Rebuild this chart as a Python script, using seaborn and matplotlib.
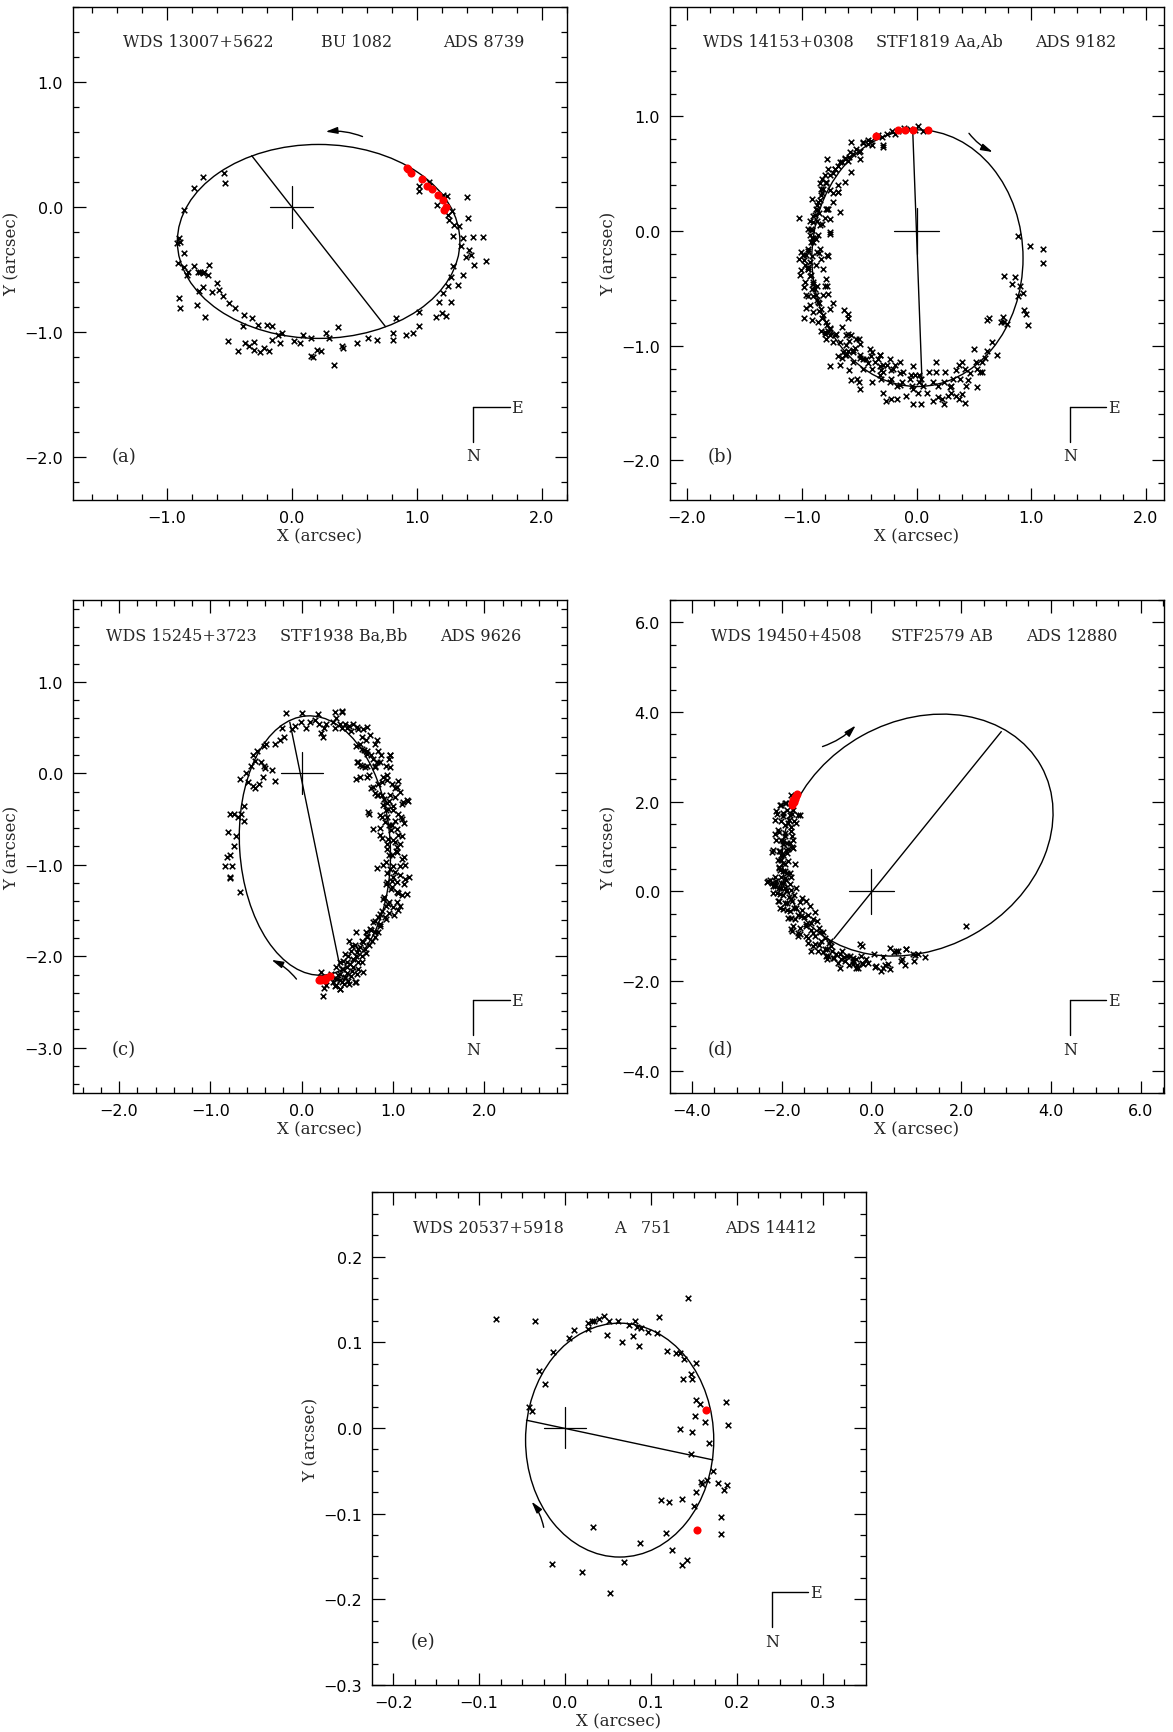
import matplotlib
matplotlib.use("Agg")
import matplotlib.pyplot as plt
import seaborn as sns
from matplotlib.patches import Ellipse
from matplotlib.ticker import MultipleLocator, FuncFormatter

sns.set_style("ticks")
plt.rcParams['font.family'] = ['DejaVu Sans']

# ---------------- data (arcsec) ----------------

# (a) WDS 13007+5622 / BU 1082
a_x = [-0.54, -0.53, -0.71, -0.78, -0.86, -0.92, -0.90, -0.89, -0.91, -0.86, -0.86, -0.83, -0.84, -0.78,
       -0.75, -0.73, -0.71, -0.70, -0.67, -0.66, -0.74, -0.71, -0.64, -0.60, -0.58, -0.55, -0.90, -0.89,
       -0.76, -0.69, -0.50, -0.45, -0.38, -0.32, -0.39, -0.27, -0.20, -0.16, -0.11, -0.08, -0.51, -0.43,
       -0.37, -0.34, -0.30, -0.30, -0.25, -0.22, -0.18, -0.16, -0.09, 0.02, 0.07, 0.09, 0.15, 0.15, 0.17,
       0.20, 0.23, 0.27, 0.30, 0.34, 0.37, 0.40, 0.41, 0.52, 0.61, 0.68, 0.81, 0.81, 0.83, 0.91, 0.97,
       1.02, 1.02, 1.15, 1.18, 1.20, 1.23, 1.27, 1.21, 1.25, 1.27, 1.33, 1.37, 1.29, 1.46, 1.55, 1.43,
       1.42, 1.39, 1.35, 1.37, 1.45, 1.53, 1.29, 1.34, 1.30, 1.26, 1.41, 1.25, 1.28, 1.16, 1.24, 1.21,
       1.40, 1.02, 1.02, 1.10]
a_y = [0.27, 0.19, 0.24, 0.15, -0.02, -0.29, -0.25, -0.28, -0.45, -0.37, -0.48, -0.52, -0.54, -0.47,
       -0.52, -0.52, -0.53, -0.52, -0.54, -0.46, -0.67, -0.64, -0.68, -0.61, -0.66, -0.71, -0.73, -0.81,
       -0.78, -0.88, -0.77, -0.81, -0.86, -0.89, -0.95, -0.94, -0.94, -0.95, -1.02, -1.01, -1.07, -1.15,
       -1.09, -1.11, -1.08, -1.14, -1.16, -1.13, -1.15, -1.06, -1.09, -1.07, -1.09, -1.02, -1.05, -1.19,
       -1.20, -1.14, -1.15, -1.01, -1.05, -1.26, -0.96, -1.11, -1.13, -1.09, -1.05, -1.06, -1.01, -1.06,
       -0.89, -1.02, -1.01, -0.95, -0.84, -0.88, -0.76, -0.85, -0.87, -0.76, -0.69, -0.63, -0.56, -0.62,
       -0.54, -0.47, -0.46, -0.43, -0.38, -0.34, -0.40, -0.31, -0.25, -0.24, -0.24, -0.23, -0.15, -0.14,
       -0.10, -0.09, -0.06, -0.03, 0.02, 0.09, 0.10, 0.08, 0.17, 0.13, 0.20]
a_red_x = [0.92, 0.93, 0.95, 1.04, 1.08, 1.12, 1.17, 1.21, 1.23, 1.22]
a_red_y = [0.31, 0.30, 0.27, 0.22, 0.17, 0.14, 0.10, 0.06, 0.00, -0.02]

# (b) WDS 14153+0308 / STF1819 Aa,Ab
b_x = [-0.57, -0.47, -0.42, -0.39, -0.30, -0.29, -0.29, -0.49, -0.50, -0.55, -0.59, -0.62, -0.60, -0.65,
       -0.68, -0.71, -0.73, -0.78, -0.77, -0.80, -0.82, -0.84, -0.83, -0.79, -0.75, -0.68, -0.68, -0.73,
       -0.91, -0.82, -0.84, -0.87, -0.87, -0.85, -0.78, -0.77, -0.67, -0.80, -0.90, -0.93, -0.87, -0.82,
       -0.95, -0.91, -0.91, -0.90, -0.88, -0.90, -0.75, -0.75, -1.02, -0.87, -0.95, -0.85, -0.91, -0.98,
       -1.02, -0.77, -0.78, -0.95, -1.01, -0.95, -0.93, -0.88, -0.90, -0.91, -0.87, -0.80, -0.78, -0.98,
       -0.95, -0.90, -0.87, -0.77, -0.85, -0.73, -0.96, -0.98, -0.91, -0.85, -0.82, -0.78, -0.75, -0.77,
       -0.83, -0.79, -0.80, -0.75, -0.70, -0.63, -0.60, -0.60, -0.65, -0.60, -0.57, -0.59, -0.50, -0.49,
       -0.54, -0.60, -0.55, -0.62, -0.68, -0.65, -0.49, -0.47, -0.40, -0.42, -0.39, -0.32, -0.34, -0.39,
       -0.32, -0.31, -0.29, -0.26, -0.22, -0.19, -0.75, -0.67, -0.59, -0.57, -0.52, -0.50, -0.49, -0.39,
       -0.31, -0.29, -0.22, -0.17, -0.14, -0.13, -0.27, -0.22, -0.17, -0.09, -0.03, -0.01, -0.03, 0.04,
       -0.03, 0.02, 0.01, 0.04, 0.06, 0.11, 0.14, 0.17, 0.17, 0.14, 0.19, 0.24, 0.24, 0.25, 0.27, 0.30,
       0.32, 0.34, 0.37, 0.38, 0.40, 0.42, 0.43, 0.45, 0.47, 0.50, 0.52, 0.53, 0.53, 0.55, 0.57, 0.57,
       0.60, 0.61, 0.66, 0.70, 0.40, 0.37, 0.34, 0.42, 0.29, 0.19, 0.22, 0.30, 0.74, 0.75, 0.76, 0.79,
       0.61, 0.63, 0.76, 0.86, 0.83, 0.90, 0.88, 0.93, 0.94, 0.95, 0.97, 0.88, 0.99, 1.10, 1.10, -0.19,
       -0.16, -0.11, -0.06, 0.01, -0.01, 0.06, -0.21, -0.26, -0.34, -0.40, -0.06, -0.04, 0.02, 0.09,
       # denser part of the western arc
       -0.466, -0.423, -0.524, -0.582, -0.626, -0.669, -0.713, -0.756, -0.785, -0.815, -0.829, -0.858,
       -0.873, -0.887, -0.902, -0.916, -0.931, -0.916, -0.945, -0.960, -0.931, -0.945, -0.916, -0.902,
       -0.887, -0.873, -0.858, -0.829, -0.815, -0.785, -0.756, -0.713, -0.669, -0.611, -0.553, -0.495,
       -0.437, -0.364, -0.292, -0.205, -0.118, -0.045, -0.844, -0.858, -0.844, -0.829, -0.815, -0.785,
       -0.974, -0.989, -1.003, -0.785, -0.756, -0.727, -0.684, -0.626, -0.568, -0.495, -1.018, -0.815,
       -0.756, -0.611, -0.524, -0.408, -0.321, -0.234, -0.147, -0.321, -0.234, -0.147, -0.466, -0.553,
       -0.611, -0.974, -0.960, -0.931, -0.902, -0.858, -0.800, -0.727, -0.640]
b_y = [0.78, 0.77, 0.76, 0.75, 0.82, 0.75, 0.73, 0.70, 0.69, 0.67, 0.65, 0.64, 0.61, 0.60, 0.57, 0.54,
       0.51, 0.63, 0.54, 0.49, 0.45, 0.42, 0.37, 0.42, 0.36, 0.40, 0.34, 0.33, 0.28, 0.33, 0.27, 0.23,
       0.18, 0.16, 0.19, 0.19, 0.17, 0.11, 0.13, 0.09, 0.09, 0.06, 0.02, 0.01, -0.06, -0.06, -0.07,
       -0.10, -0.03, -0.01, 0.11, -0.18, -0.17, -0.19, -0.22, -0.25, -0.24, -0.22, -0.21, -0.33, -0.34,
       -0.31, -0.39, -0.30, -0.46, -0.51, -0.48, -0.48, -0.48, -0.49, -0.57, -0.57, -0.60, -0.55, -0.63,
       -0.63, -0.67, -0.76, -0.78, -0.70, -0.76, -0.82, -0.85, -0.87, -0.87, -0.94, -0.90, -0.91, -0.90,
       -0.69, -0.72, -0.76, -0.84, -0.90, -0.91, -0.96, -0.94, -0.99, -1.02, -1.05, -1.06, -1.08, -1.09,
       -1.11, -1.11, -1.12, -1.09, -1.15, -1.06, -1.08, -1.12, -1.20, -1.18, -1.21, -1.23, -1.17, -1.21,
       -1.17, -1.18, -1.17, -1.21, -1.30, -1.29, -1.32, -1.38, -1.32, -1.29, -1.41, -1.29, -1.35, -1.24,
       -1.32, -1.48, -1.47, -1.47, -1.44, -1.18, -1.26, -1.51, -1.51, -1.38, -1.32, -1.41, -1.29, -1.35,
       -1.23, -1.48, -1.14, -1.23, -1.32, -1.35, -1.32, -1.51, -1.23, -1.44, -1.35, -1.29, -1.21, -1.17,
       -1.29, -1.14, -1.20, -1.35, -1.30, -1.24, -1.03, -1.14, -1.20, -1.36, -1.23, -1.23, -1.14, -1.11,
       -1.05, -0.97, -1.08, -1.42, -1.47, -1.44, -1.50, -1.36, -1.45, -1.47, -1.41, -0.79, -0.75, -0.79,
       -0.81, -0.78, -0.76, -0.39, -0.40, -0.46, -0.48, -0.57, -0.54, -0.69, -0.72, -0.82, -0.04, -0.13,
       -0.16, -0.28, 0.85, 0.87, 0.90, 0.89, 0.92, 0.88, 0.87, 0.87, 0.85, 0.84, 0.79, -1.29, -1.35,
       -1.26, -1.41,
       0.776, 0.791, 0.718, 0.689, 0.631, 0.602, 0.543, 0.485, 0.427, 0.369, 0.311, 0.253, 0.194, 0.136,
       0.078, 0.020, -0.038, -0.096, -0.155, -0.213, -0.271, -0.329, -0.387, -0.446, -0.504, -0.562,
       -0.620, -0.678, -0.736, -0.795, -0.853, -0.911, -0.969, -0.998, -1.042, -1.085, -1.115, -1.144,
       -1.173, -1.202, -1.231, -1.260, 0.049, -0.038, -0.155, -0.242, -0.329, -0.416, -0.300, -0.213,
       -0.184, 0.194, 0.107, 0.253, 0.340, 0.427, 0.514, 0.631, -0.387, -0.562, -0.678, -0.911, -0.940,
       -1.027, -1.085, -1.115, -1.144, -1.260, -1.318, -1.347, -1.202, -1.144, -1.085, -0.446, -0.562,
       -0.649, -0.707, -0.795, -0.882, -0.969, -1.056]
b_red_x = [-0.35, -0.16, -0.10, -0.03, 0.10]
b_red_y = [0.83, 0.88, 0.88, 0.88, 0.88]

# (c) WDS 15245+3723 / STF1938 Ba,Bb
c_x = [-0.17, 0.00, 0.18, 0.36, 0.44, 0.44, -0.22, -0.11, -0.07, -0.01, 0.05, 0.09, 0.15, 0.19, 0.21,
       0.23, 0.25, 0.27, 0.34, 0.36, 0.38, 0.42, 0.44, 0.48, 0.50, 0.52, 0.54, 0.56, 0.62, 0.66, 0.64,
       0.70, 0.72, 0.60, 0.68, 0.72, 0.76, 0.80, 0.84, 0.87, 0.97, 0.96, 0.83, 0.80, 0.62, 0.66, 0.72,
       0.60, 0.74, 0.92, 0.94, 1.06, 1.02, 0.88, 0.76, 0.80, 0.84, 0.90, 0.96, 1.10, 1.16, 1.00, 0.92,
       0.88, 0.74, 0.94, 1.02, 1.09, 1.12, 0.86, 0.96, 1.06, 1.10, 1.00, 0.94, 0.88, 1.04, 1.12, 0.96,
       0.92, 0.83, 1.00, 1.08, 1.13, 1.18, 0.94, 1.00, 1.04, 1.12, 0.92, 0.98, 1.06, 1.15, 0.90, 0.96,
       1.04, 1.08, 0.92, 0.88, 0.96, 0.84, 0.92, 0.78, 0.86, 0.76, 0.84, 0.70, 0.72, 0.80, 0.60, 0.66,
       0.74, 0.58, 0.62, 0.70, 0.52, 0.54, 0.60, 0.66, 0.48, 0.50, 0.56, 0.62, 0.42, 0.44, 0.50, 0.54,
       0.60, 0.38, 0.40, 0.36, 0.42, 0.46, 0.52, 0.38, 0.42, 0.34, 0.27, 0.25, 0.23, 0.21, 0.32, 0.48,
       -0.29, -0.39, -0.41, -0.49, -0.53, -0.51, -0.45, -0.41, -0.40, -0.33, -0.29, -0.42, -0.55, -0.61,
       -0.68, -0.59, -0.53, -0.51, -0.47, -0.63, -0.66, -0.70, -0.74, -0.78, -0.81, -0.72, -0.74, -0.78,
       -0.82, -0.84, -0.76, -0.78, -0.78, -0.68, -0.63, -0.24, -0.19, 0.98, 1.03, 0.99, 0.93, 1.01,
       # dense eastern arc
       0.602, 0.675, 0.748, 0.821, 0.657, 0.711, 0.784, 0.602, 0.638, 0.693, 0.803, 0.857, 0.967, 0.967,
       0.894, 0.931, 0.985, 1.040, 0.839, 0.784, 0.821, 0.876, 0.967, 1.022, 1.077, 1.113, 1.149, 0.894,
       0.949, 1.004, 1.058, 1.095, 0.857, 0.912, 0.985, 1.040, 0.784, 0.857, 0.949, 1.022, 1.077, 0.730,
       0.711, 0.638,
       0.930, 0.985, 1.040, 1.095, 0.894, 0.967, 1.022, 1.077, 1.131, 0.930, 0.985, 1.040, 1.095, 0.894,
       0.949, 1.004, 1.058, 0.857, 0.912, 0.803, 0.857, 0.748, 0.803, 0.711, 0.766, 0.675, 0.638, 0.693,
       0.602, 0.657, 0.565, 0.620, 0.529, 0.492, 0.547, 0.456, 0.419, 0.474, 0.383, 0.438, 0.511, 0.584,
       0.365, 0.419, 0.602, 0.675, 0.547, 0.511, 0.456]
c_y = [0.66, 0.66, 0.65, 0.67, 0.68, 0.67, 0.50, 0.48, 0.52, 0.56, 0.50, 0.56, 0.58, 0.54, 0.44, 0.40,
       0.50, 0.54, 0.56, 0.50, 0.60, 0.54, 0.50, 0.54, 0.49, 0.52, 0.46, 0.54, 0.48, 0.40, 0.32, 0.36,
       0.51, 0.30, 0.26, 0.24, 0.20, 0.32, 0.24, 0.20, 0.20, 0.16, 0.12, 0.08, 0.12, 0.08, 0.08, -0.06,
       -0.02, 0.08, -0.02, -0.08, -0.16, -0.10, -0.16, -0.22, -0.24, -0.28, -0.30, -0.34, -0.30, -0.36,
       -0.40, -0.48, -0.44, -0.48, -0.52, -0.48, -0.54, -0.60, -0.56, -0.67, -0.69, -0.73, -0.77, -0.71,
       -0.81, -0.91, -0.89, -0.97, -1.03, -1.01, -1.01, -1.00, -1.13, -1.09, -1.13, -1.19, -1.21, -1.21,
       -1.27, -1.31, -1.32, -1.35, -1.41, -1.41, -1.45, -1.45, -1.51, -1.53, -1.57, -1.59, -1.63, -1.65,
       -1.71, -1.73, -1.73, -1.79, -1.79, -1.73, -1.83, -1.88, -1.88, -1.92, -1.96, -1.83, -1.94, -2.00,
       -2.06, -1.98, -2.06, -2.12, -2.14, -2.06, -2.14, -2.18, -2.22, -2.28, -2.12, -2.20, -2.24, -2.26,
       -2.30, -2.30, -2.32, -2.36, -2.28, -2.32, -2.35, -2.43, -2.17, -2.19, -2.24, 0.32, 0.32, 0.30,
       0.24, 0.20, 0.14, 0.12, 0.08, 0.06, 0.04, -0.08, -0.04, 0.08, 0.00, -0.06, -0.10, -0.14, -0.16,
       -0.12, -0.36, -0.44, -0.48, -0.44, -0.44, -0.64, -0.69, -0.79, -0.89, -0.91, -1.01, -1.01, -1.13,
       -1.15, -1.30, -0.52, 0.36, 0.40, -0.62, -0.85, -1.18, -0.33, -1.55,
       0.508, 0.489, 0.416, 0.362, 0.270, 0.216, 0.161, 0.124, 0.088, 0.070, 0.070, 0.124, 0.197, 0.070,
       -0.040, -0.076, -0.113, -0.149, -0.113, -0.149, -0.241, -0.241, -0.241, -0.259, -0.204, -0.314,
       -0.296, -0.350, -0.387, -0.405, -0.442, -0.496, -0.460, -0.533, -0.569, -0.606, -0.606, -0.679,
       -0.715, -0.752, -0.770, -0.423, -0.040, -0.040,
       -0.825, -0.898, -0.861, -0.935, -1.007, -1.044, -1.081, -1.117, -1.154, -1.190, -1.245, -1.300,
       -1.336, -1.373, -1.427, -1.464, -1.500, -1.537, -1.573, -1.610, -1.665, -1.701, -1.738, -1.774,
       -1.829, -1.847, -1.902, -1.920, -1.957, -1.993, -2.030, -2.066, -2.085, -2.121, -2.158, -2.139,
       -2.194, -2.231, -2.249, -2.285, -2.267, -2.285, -2.322, -2.358, -2.194, -2.176, -1.884, -1.993,
       -2.048]
c_red_x = [0.19, 0.20, 0.21, 0.24, 0.26, 0.27, 0.31]
c_red_y = [-2.26, -2.25, -2.26, -2.25, -2.26, -2.24, -2.22]

# (d) WDS 19450+4508 / STF2579 AB
d_x = [-1.80, -1.93, -2.01, -1.89, -2.10, -1.97, -1.76, -1.59, -1.84, -1.72, -1.93, -1.80, -2.14, -2.05,
       -1.93, -1.76, -2.01, -1.89, -1.76, -2.22, -2.05, -1.97, -1.89, -2.01, -1.93, -2.05, -1.97, -1.89,
       -2.14, -2.01, -1.93, -1.80, -2.32, -2.22, -2.14, -2.05, -1.93, -1.80, -1.68, -2.10, -1.97, -1.84,
       -1.72, -2.05, -1.89, -1.76, -1.59, -1.46, -2.03, -1.89, -1.72, -1.55, -1.38, -1.25, -1.80, -1.63,
       -1.51, -1.42, -1.30, -1.21, -1.76, -1.63, -1.46, -1.34, -1.17, -1.09, -1.42, -1.25, -1.04, -0.92,
       -1.30, -1.17, -1.00, -0.88, -0.66, -1.09, -0.96, -1.00, -0.68, -0.54, -0.41, -0.24, -0.33, -0.29,
       -0.20, -0.22, -0.12, 0.05, 0.09, 0.22, 0.30, 0.26, 0.41, 0.41, 0.51, 0.60, 0.68, 0.75, 0.78, 0.96,
       0.98, 1.04, 1.20, 2.11, -0.41, -0.50, -0.62, -0.79, -0.83, -1.98, -2.06, -1.87, -1.70, -1.55,
       -1.35, -1.15, -0.95,
       # dense northern column
       -2.045, -1.896, -1.748, -2.119, -1.971, -1.822, -1.637, -2.156, -2.008, -1.859, -1.674, -2.082,
       -1.933, -1.785, -2.119, -1.971, -1.822, -2.193, -2.045, -1.896, -1.748, -2.082, -1.971, -1.859,
       -2.045, -1.933, -1.822, -2.268, -2.119, -1.971, -1.822, -2.193, -2.008, -1.896, -2.008, -1.748,
       # dense southern band
       -2.305, -2.156, -2.008, -2.193, -2.045, -1.896, -2.082, -1.933, -1.785, -1.971, -1.822, -1.674,
       -1.859, -1.711, -1.562, -1.748, -1.599, -1.451, -1.599, -1.451, -1.302, -1.414, -1.265, -1.117,
       -1.191, -1.043, -0.894, -1.006, -0.857, -0.709, -0.746, -0.597, -0.486, -0.412, -0.337, -0.189,
       -1.785, -1.637, -1.340, -0.709, -0.337, -0.077, 0.108, 0.257, 0.368, 0.554, 0.665, 0.776, 0.925,
       -0.263]
d_y = [2.14, 1.98, 1.93, 1.81, 1.73, 1.69, 1.73, 1.71, 1.60, 1.56, 1.48, 1.44, 1.28, 1.32, 1.23, 1.23,
       1.15, 1.07, 0.99, 0.88, 0.91, 0.82, 0.86, 0.70, 0.62, 0.53, 0.45, 0.41, 0.33, 0.33, 0.29, 0.33,
       0.21, 0.18, 0.12, 0.08, 0.08, 0.04, 0.08, -0.04, -0.08, -0.12, -0.08, -0.21, -0.25, -0.21, -0.23,
       -0.21, -0.37, -0.41, -0.37, -0.41, -0.33, -0.45, -0.59, -0.53, -0.58, -0.53, -0.62, -0.66, -0.89,
       -0.99, -0.78, -0.86, -0.82, -0.91, -1.03, -0.99, -1.03, -1.11, -1.23, -1.19, -1.28, -1.32, -1.32,
       -1.36, -1.44, -1.50, -1.52, -1.44, -1.48, -1.44, -1.65, -1.71, -1.60, -1.22, -1.52, -1.40, -1.69,
       -1.77, -1.65, -1.47, -1.26, -1.73, -1.36, -1.32, -1.52, -1.65, -1.28, -1.55, -1.42, -1.40, -1.47,
       -0.77, -1.56, -1.65, -1.47, -1.40, -1.48, 1.05, 0.55, 0.95, 0.60, -0.15, -0.70, -0.90, -1.15,
       1.934, 1.971, 1.823, 1.786, 1.749, 1.711, 1.711, 1.600, 1.563, 1.526, 1.526, 1.377, 1.303, 1.340,
       1.155, 1.118, 1.080, 0.932, 0.895, 0.932, 0.969, 0.709, 0.635, 0.672, 0.487, 0.449, 0.412, 0.264,
       0.227, 0.190, 0.153, 0.115, 0.078, 0.264, 0.821, 1.155,
       0.227, 0.153, 0.190, -0.033, -0.070, 0.004, -0.219, -0.256, -0.181, -0.404, -0.441, -0.367,
       -0.590, -0.627, -0.553, -0.775, -0.812, -0.738, -0.961, -0.998, -0.924, -1.147, -1.184, -1.109,
       -1.332, -1.295, -1.221, -1.443, -1.481, -1.406, -1.592, -1.555, -1.443, -1.629, -1.518, -1.629,
       -0.850, -0.924, -1.332, -1.703, -1.703, -1.592, -1.666, -1.703, -1.629, -1.332, -1.555, -1.295,
       -1.406, -1.184]
d_red_x = [-1.76, -1.78, -1.73, -1.74, -1.71, -1.70, -1.68, -1.66]
d_red_y = [1.93, 1.98, 1.99, 2.04, 2.06, 2.10, 2.12, 2.17]

# (e) WDS 20537+5918 / A 751
e_x = [-0.080, -0.035, 0.143, 0.109, 0.045, 0.040, 0.034, 0.031, 0.027, 0.027, 0.010, 0.005, 0.051,
       0.062, 0.074, 0.081, 0.084, 0.088, 0.096, 0.107, 0.049, 0.079, 0.066, 0.086, -0.014, 0.119, 0.129,
       0.134, 0.138, 0.152, 0.146, 0.137, 0.148, -0.030, -0.023, -0.042, -0.038, 0.152, 0.157, 0.187,
       0.151, 0.163, 0.189, 0.134, 0.148, 0.168, 0.146, 0.172, 0.158, 0.159, 0.165, 0.178, 0.188, 0.185,
       0.152, 0.112, 0.121, 0.136, 0.150, 0.182, 0.033, 0.117, 0.181, 0.087, 0.124, 0.068, 0.142, 0.136,
       -0.015, 0.020, 0.052]
e_y = [0.127, 0.125, 0.152, 0.130, 0.131, 0.127, 0.125, 0.125, 0.122, 0.116, 0.114, 0.105, 0.125, 0.125,
       0.120, 0.125, 0.118, 0.117, 0.112, 0.111, 0.109, 0.107, 0.100, 0.096, 0.089, 0.090, 0.087, 0.087,
       0.080, 0.076, 0.063, 0.057, 0.057, 0.066, 0.051, 0.025, 0.020, 0.033, 0.028, 0.030, 0.014, 0.007,
       0.004, -0.001, -0.005, -0.017, -0.031, -0.050, -0.063, -0.065, -0.061, -0.064, -0.067, -0.073,
       -0.075, -0.084, -0.087, -0.083, -0.091, -0.104, -0.116, -0.123, -0.124, -0.134, -0.143, -0.156,
       -0.154, -0.160, -0.159, -0.168, -0.193]
e_red_x = [0.164, 0.154]
e_red_y = [0.021, -0.119]

# orbit ellipses: centre, full width, full height, rotation (deg)
orbits = {
    'a': ((0.215, -0.275), 2.26, 1.55, 0.0),
    'b': ((0.008, -0.237), 1.84, 2.24, 0.0),
    'c': ((0.145, -0.790), 1.65, 2.84, 3.6),
    'd': ((1.03, 1.255), 6.31, 5.08, 29.2),
    'e': ((0.0635, -0.0142), 0.219, 0.273, 0.0),
}
# line of apsides (two ends)
apsides = {
    'a': ([-0.32, 0.75], [0.41, -0.956]),
    'b': ([-0.033, 0.049], [0.874, -1.347]),
    'c': ([-0.13, 0.42], [0.56, -2.12]),
    'd': ([-0.833, 2.896], [-1.053, 3.564]),
    'e': ([-0.0449, 0.172], [0.009, -0.0373]),
}
# direction-of-motion arrows (start, end)
arrows = {
    'a': ((0.566, 0.563), (0.271, 0.602)),
    'b': ((0.457, 0.853), (0.664, 0.689)),
    'c': ((-0.057, -2.25), (-0.33, -2.04)),
    'd': ((-1.09, 3.23), (-0.35, 3.70)),
    'e': ((-0.0249, -0.116), (-0.039, -0.086)),
}
cross_size = {'a': 0.17, 'b': 0.197, 'c': 0.23, 'd': 0.5, 'e': 0.024}

titles = {
    'a': ["WDS 13007+5622", "BU 1082", "ADS 8739"],
    'b': ["WDS 14153+0308", "STF1819 Aa,Ab", "ADS 9182"],
    'c': ["WDS 15245+3723", "STF1938 Ba,Bb", "ADS 9626"],
    'd': ["WDS 19450+4508", "STF2579 AB", "ADS 12880"],
    'e': ["WDS 20537+5918", "A   751", "ADS 14412"],
}
title_x = {
    'a': [0.253, 0.574, 0.831],
    'b': [0.220, 0.545, 0.822],
    'c': [0.220, 0.548, 0.826],
    'd': [0.235, 0.552, 0.814],
    'e': [0.236, 0.549, 0.808],
}
limits = {
    'a': ((-1.75, 2.2), (-2.34, 1.60)),
    'b': ((-2.15, 2.153), (-2.346, 1.957)),
    'c': ((-2.505, 2.904), (-3.496, 1.895)),
    'd': ((-4.495, 6.515), (-4.50, 6.50)),
    'e': ((-0.2249, 0.3498), (-0.3001, 0.2754)),
}
steps = {'a': (1.0, 0.2), 'b': (1.0, 0.2), 'c': (1.0, 0.2), 'd': (2.0, 0.5), 'e': (0.1, 0.025)}

points = {
    'a': (a_x, a_y, a_red_x, a_red_y),
    'b': (b_x, b_y, b_red_x, b_red_y),
    'c': (c_x, c_y, c_red_x, c_red_y),
    'd': (d_x, d_y, d_red_x, d_red_y),
    'e': (e_x, e_y, e_red_x, e_red_y),
}

# axes placement in figure fractions
W, H = 0.421, 0.2845
positions = {
    'a': [0.0622, 0.711, W, H],
    'b': [0.571, 0.711, W, H],
    'c': [0.0622, 0.3687, W, H],
    'd': [0.571, 0.3687, W, H],
    'e': [0.317, 0.0271, W, H],
}

serif = ['DejaVu Serif']
fmt = FuncFormatter(lambda v, p: f"{round(v, 6):.1f}".replace('-', '\u2212'))

fig = plt.figure(figsize=(11.73, 17.33), dpi=100)

for key in ['a', 'b', 'c', 'd', 'e']:
    ax = fig.add_axes(positions[key])
    xs, ys, rx, ry = points[key]

    sns.scatterplot(x=xs, y=ys, marker='x', color='black', s=16, linewidth=1.15, ax=ax, zorder=3)
    sns.scatterplot(x=rx, y=ry, marker='o', color='red', s=34, linewidth=0, ax=ax, zorder=4)

    centre, ew, eh, ang = orbits[key]
    ax.add_patch(Ellipse(centre, ew, eh, angle=ang, fill=False, color='black', lw=1.0, zorder=2))
    lx, ly = apsides[key]
    ax.plot(lx, ly, color='black', lw=1.0, zorder=2)

    cs = cross_size[key]
    ax.plot([-cs, cs], [0, 0], color='black', lw=0.9)
    ax.plot([0, 0], [-cs, cs], color='black', lw=0.9)

    st, en = arrows[key]
    ax.annotate('', xy=en, xytext=st,
                arrowprops=dict(arrowstyle='-|>,head_length=0.7,head_width=0.2',
                                connectionstyle='arc3,rad=0.12', color='black', lw=1.0,
                                shrinkA=0, shrinkB=0))

    (x0, x1), (y0, y1) = limits[key]
    ax.set_xlim(x0, x1)
    ax.set_ylim(y0, y1)
    major, minor = steps[key]
    for axis in (ax.xaxis, ax.yaxis):
        axis.set_major_locator(MultipleLocator(major))
        axis.set_minor_locator(MultipleLocator(minor))
        axis.set_major_formatter(fmt)
    ax.tick_params(which='both', direction='in', top=True, right=True, width=0.9, colors='black',
                   labelsize=11.5)
    ax.tick_params(which='major', length=9, pad=7)
    ax.tick_params(which='minor', length=4.5)
    for sp in ax.spines.values():
        sp.set_linewidth(1.0)
        sp.set_color('black')

    ax.set_xlabel('X (arcsec)', family=serif, fontsize=12, labelpad=2)
    ax.set_ylabel('Y (arcsec)', family=serif, fontsize=12, labelpad=3)

    for txt, tx in zip(titles[key], title_x[key]):
        ax.text(tx, 0.929, txt, transform=ax.transAxes, ha='center', va='center',
                family=serif, fontsize=11.5)
    ax.text(0.103, 0.089, f'({key})', transform=ax.transAxes, ha='center', va='center',
            family=serif, fontsize=13)

    # compass
    ax.plot([0.81, 0.81], [0.117, 0.188], transform=ax.transAxes, color='black', lw=1.0)
    ax.plot([0.81, 0.884], [0.188, 0.188], transform=ax.transAxes, color='black', lw=1.0)
    ax.text(0.90, 0.188, 'E', transform=ax.transAxes, ha='center', va='center', family=serif, fontsize=11.5)
    ax.text(0.81, 0.089, 'N', transform=ax.transAxes, ha='center', va='center', family=serif, fontsize=11.5)

fig.savefig('out.png', dpi=100)
